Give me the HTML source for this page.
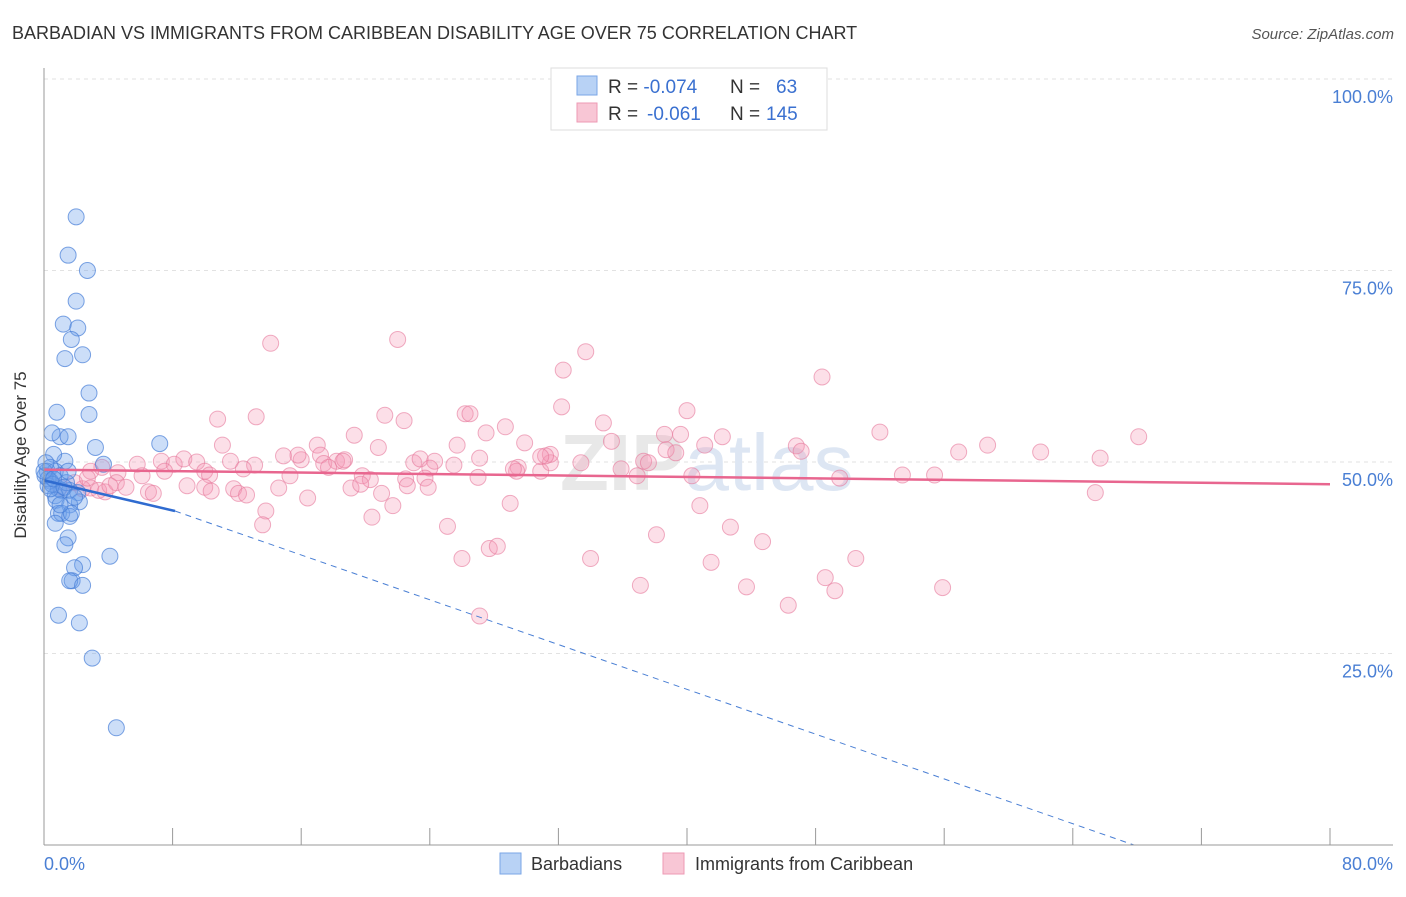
<!DOCTYPE html>
<html><head><meta charset="utf-8"><style>
body{margin:0;background:#fff;font-family:"Liberation Sans",sans-serif;}
svg text{font-family:"Liberation Sans",sans-serif;}
</style></head><body>
<svg id="c" width="1406" height="892">
<text x="12" y="39" font-size="18" fill="#333">BARBADIAN VS IMMIGRANTS FROM CARIBBEAN DISABILITY AGE OVER 75 CORRELATION CHART</text>
<text x="1394" y="39" font-size="15" fill="#555" font-style="italic" text-anchor="end">Source: ZipAtlas.com</text>
<g id="grid"></g>
<text x="560" y="490" font-size="80" fill="#e8e8e8" font-weight="bold" font-family="Liberation Serif">ZIP<tspan fill="#dde6f3" font-family="Liberation Sans" font-weight="normal">atlas</tspan></text>
<g id="pts"></g>
<g id="lines"></g>
<line x1="44" y1="68" x2="44" y2="845" stroke="#999"/>
<line x1="44" y1="845" x2="1393" y2="845" stroke="#999"/>
<g id="ticks"></g>
<text x="26" y="455" font-size="17" fill="#333" text-anchor="middle" transform="rotate(-90 26 455)">Disability Age Over 75</text>
<text x="44" y="870" font-size="18" fill="#4a7fd4">0.0%</text>
<text x="1393" y="870" font-size="18" fill="#4a7fd4" text-anchor="end">80.0%</text>
<g>
<rect x="551" y="68" width="276" height="62" fill="#fff" stroke="#ddd"/>
<rect x="577" y="76" width="20" height="19" fill="#b8d2f5" stroke="#7aa6e6"/>
<text x="608" y="93" font-size="19" fill="#333">R = <tspan fill="#3a70d0">-0.074</tspan><tspan x="730">N = </tspan><tspan x="776" fill="#3a70d0">63</tspan></text>
<rect x="577" y="103" width="20" height="19" fill="#f8c6d5" stroke="#ee9ab4"/>
<text x="608" y="120" font-size="19" fill="#333">R = <tspan x="647" fill="#3a70d0">-0.061</tspan><tspan x="730">N = </tspan><tspan x="766" fill="#3a70d0">145</tspan></text>
</g>
<g>
<rect x="500" y="853" width="21" height="21" fill="#b8d2f5" stroke="#7aa6e6"/>
<text x="531" y="870" font-size="18" fill="#333">Barbadians</text>
<rect x="663" y="853" width="21" height="21" fill="#f8c6d5" stroke="#ee9ab4"/>
<text x="695" y="870" font-size="18" fill="#333">Immigrants from Caribbean</text>
</g>
</svg>
<script>
const yTicks=[25,50,75,100];
const xTickVals=[0,8,16,24,32,40,48,56,64,72,80];
const blueX=[2.0,1.5,2.7,2.0,1.2,2.1,1.7,1.3,2.4,2.8,0.8,2.8,1.0,1.5,0.5,3.2,7.2,1.3,3.7,0.6,0.4,0.2,0.7,1.0,0.4,0.25,0.9,1.1,1.6,2.1,2.2,0.7,0.75,1.6,0.9,1.1,1.6,1.7,0.7,1.5,1.3,4.1,2.4,1.9,1.75,1.6,2.4,0.9,2.2,3.0,4.5,0.06,0.25,0.5,1.4,0.0,0.4,0.6,1.25,1.5,1.9,1.0,0.12];
const blueY=[82,77,75,71,68,67.5,66,63.5,64,59,56.5,56.2,53.3,53.3,53.8,51.9,52.4,50.1,49.7,51.0,49.3,48.8,48.8,48.2,47.5,46.9,46.5,46.3,46.3,46.0,44.8,45.6,45.0,44.4,43.3,43.3,42.9,43.3,42.0,40.1,39.2,37.7,36.6,36.2,34.5,34.5,33.9,30.0,29.0,24.4,15.3,48.2,47.8,47.1,47.3,48.8,46.5,47.8,46.7,48.8,45.4,44.4,49.9];
const pinkX=[14.1,22.0,33.7,32.3,48.4,10.8,13.2,21.2,22.4,26.2,26.5,32.2,34.8,40.0,28.7,27.5,19.3,17.0,17.2,20.8,25.7,29.9,35.3,38.6,39.6,42.2,52.0,68.1,58.7,56.9,62.0,65.7,46.8,41.1,47.1,11.1,7.3,5.8,8.1,8.7,9.5,11.6,13.1,14.9,16.0,15.8,17.4,18.2,18.7,17.7,18.6,23.0,23.4,24.3,24.0,25.5,27.1,29.5,29.4,30.9,31.5,31.5,31.2,33.4,35.9,37.3,37.6,38.7,39.3,30.9,3.6,2.9,4.6,6.1,7.5,10.0,10.3,12.4,15.3,19.8,20.3,22.5,23.7,22.6,23.9,27.0,29.2,36.9,40.3,49.5,53.4,55.4,2.9,3.8,4.5,5.1,6.5,6.8,8.9,10.0,10.4,11.8,12.1,12.6,14.6,16.4,19.1,21.0,21.7,19.7,29.0,40.8,13.8,13.6,20.4,25.1,42.7,38.1,44.7,26.0,27.7,28.2,34.0,41.5,50.5,37.1,43.7,48.6,49.2,55.9,46.3,27.1,65.4,2.4,3.4,1.0,1.9,2.7,4.1];
const pinkY=[65.5,66,64.4,62,61.1,55.6,55.9,56.1,55.4,56.3,56.3,57.2,55.1,56.7,54.6,53.8,53.5,52.2,50.9,51.9,52.2,52.5,52.7,53.6,53.6,53.3,53.9,53.3,52.2,51.3,51.3,50.5,52.1,52.2,51.4,52.2,50.1,49.7,49.7,50.4,50.0,50.1,49.6,50.8,50.3,50.9,49.8,50.1,50.3,49.3,50.1,49.9,50.4,50.1,49.2,49.6,50.5,49.3,48.8,48.8,49.9,51.0,50.8,49.9,49.1,50.1,49.9,51.6,51.2,50.7,49.3,48.8,48.6,48.2,48.8,48.8,48.3,49.1,48.2,48.2,47.7,47.8,47.9,46.9,46.7,48.0,49.1,48.2,48.2,47.9,48.3,48.3,46.6,46.1,47.3,46.7,46.1,45.9,46.9,46.7,46.2,46.5,45.9,45.7,46.6,45.3,46.6,45.9,44.3,47.1,44.6,44.3,43.6,41.8,42.8,41.6,41.5,40.5,39.6,37.4,38.7,39.0,37.4,36.9,37.4,33.9,33.7,34.9,33.2,33.6,31.3,29.9,46.0,46.5,46.3,46.7,47.3,47.9,46.9];
const blueTrend=[0,47.6,8.15,43.6];
const blueDash=[8.15,43.6,67.8,0];
const pinkTrend=[0,49.0,80,47.1];
const NS='http://www.w3.org/2000/svg';
const xs=v=>44+v/80*1286, ys=v=>845-v/100*766;
function mk(t,a,p){const e=document.createElementNS(NS,t);for(const k in a)e.setAttribute(k,a[k]);p.appendChild(e);return e;}
const grid=document.getElementById('grid'),ticks=document.getElementById('ticks'),pts=document.getElementById('pts'),lines=document.getElementById('lines');
yTicks.forEach(v=>{
 const g=mk('line',{x1:44,x2:1393,y1:ys(v),y2:ys(v),stroke:'#e2e2e2','stroke-dasharray':'4 4'},grid);
 
 
 const t=mk('text',{x:1393,y:ys(v)+24,'font-size':18,fill:'#4a7fd4','text-anchor':'end'},ticks);
 t.textContent=v.toFixed(1)+'%';
 
 
});
xTickVals.forEach(v=>{
 const l=mk('line',{x1:xs(v),x2:xs(v),y1:828,y2:845,stroke:'#999'},ticks);
 
 
});
pinkX.forEach((x,i)=>{
 const c=mk('circle',{cx:xs(x),cy:ys(pinkY[i]),r:8,fill:'rgba(244,150,180,0.3)',stroke:'rgba(230,120,155,0.6)','stroke-width':1},pts);
 
 
});
blueX.forEach((x,i)=>{
 const c=mk('circle',{cx:xs(x),cy:ys(blueY[i]),r:8,fill:'rgba(110,160,235,0.35)',stroke:'rgba(70,125,215,0.7)','stroke-width':1},pts);
 
 
});
let l=mk('line',{x1:xs(blueDash[0]),y1:ys(blueDash[1]),x2:xs(blueDash[2]),y2:ys(blueDash[3]),stroke:'#4a7fd4','stroke-width':1,'stroke-dasharray':'6 5'},lines);


l=mk('line',{x1:xs(blueTrend[0]),y1:ys(blueTrend[1]),x2:xs(blueTrend[2]),y2:ys(blueTrend[3]),stroke:'#2f6bd0','stroke-width':2.5},lines);


l=mk('line',{x1:xs(pinkTrend[0]),y1:ys(pinkTrend[1]),x2:xs(pinkTrend[2]),y2:ys(pinkTrend[3]),stroke:'#e8668f','stroke-width':2.5},lines);


</script>
</body></html>
